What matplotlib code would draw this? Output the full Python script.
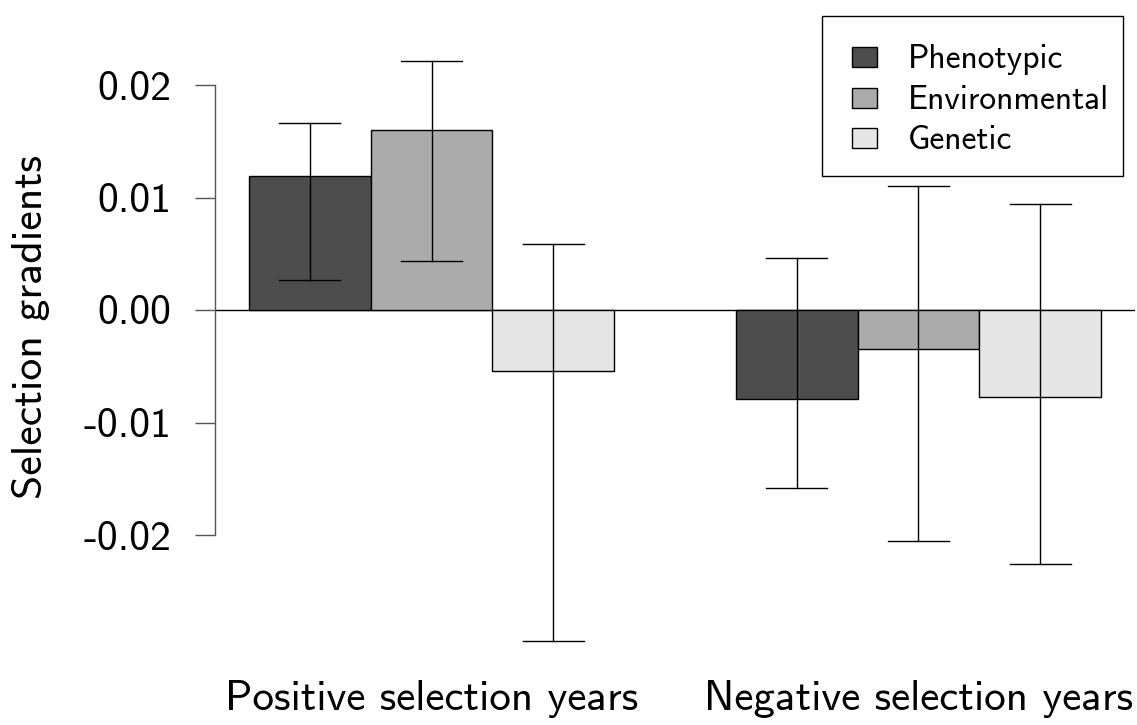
import matplotlib
matplotlib.use("Agg")
import matplotlib.pyplot as plt
from matplotlib.patches import Rectangle

# selection gradients per year type and component
groups = ["Positive selection years", "Negative selection years"]
components = ["Phenotypic", "Environmental", "Genetic"]
estimates = [
    [0.0119, 0.0160, -0.0054],
    [-0.0079, -0.0035, -0.0077],
]
lower = [
    [0.0027, 0.0044, -0.0294],
    [-0.0158, -0.0205, -0.0226],
]
upper = [
    [0.0166, 0.0221, 0.0059],
    [0.0046, 0.0110, 0.0094],
]
colours = ["#4d4d4d", "#ababab", "#e6e6e6"]

plt.rcParams["font.family"] = ["cmss10", "DejaVu Sans"]
plt.rcParams["axes.unicode_minus"] = False

W, H = 1137, 725
fig = plt.figure(figsize=(W / 100, H / 100), dpi=100)
# axes spans x-range 0.72..8.28 (R style barplot with 4% padding)
ax = fig.add_axes([215 / W, 0, 920 / W, 1])
ax.set_xlim(0.72, 8.28)
ax.set_ylim(-415 / 11250, 310 / 11250)

for g in range(len(groups)):
    start = 1 + g * 4
    for k in range(len(components)):
        left = start + k
        ax.bar(left, estimates[g][k], width=1, align="edge",
               color=colours[k], edgecolor="black", linewidth=1.0, zorder=2)
        xc = left + 0.5
        ax.plot([xc, xc], [lower[g][k], upper[g][k]], color="black", lw=1.0, zorder=3)
        for yv in (lower[g][k], upper[g][k]):
            ax.plot([xc - 0.25, xc + 0.25], [yv, yv], color="black", lw=1.0, zorder=3)
    ax.text(start + 1.5, -0.0346, groups[g], ha="center", va="center",
            fontsize=31, clip_on=False)

ax.axhline(0, color="black", lw=1.0, zorder=1)

for s in ["top", "right", "bottom"]:
    ax.spines[s].set_visible(False)
ax.spines["left"].set_bounds(-0.02, 0.02)
ax.spines["left"].set_color("#555555")
ax.spines["left"].set_linewidth(1.0)
ax.set_xticks([])
ax.set_yticks([-0.02, -0.01, 0.0, 0.01, 0.02])
ax.set_yticklabels(["-0.02", "-0.01", "0.00", "0.01", "0.02"])
ax.tick_params(axis="y", length=14.4, width=1.0, color="#555555", pad=17, labelsize=30)

# overlay in pixel coordinates for the axis title and the legend
lax = fig.add_axes([0, 0, 1, 1], facecolor="none")
lax.set_xlim(0, W)
lax.set_ylim(H, 0)
lax.axis("off")
lax.text(31, 327, "Selection gradients", rotation=90, ha="center", va="center",
         fontsize=31.5)

lax.add_patch(Rectangle((822, 16), 301, 160, facecolor="white",
                        edgecolor="black", linewidth=1.0))
for k, name in enumerate(components):
    yc = 57 + k * 40.5
    lax.add_patch(Rectangle((852, yc - 10), 25, 20, facecolor=colours[k],
                            edgecolor="black", linewidth=1.0))
    lax.text(908, yc + 11, name, ha="left", va="baseline", fontsize=24.2)

fig.savefig("out.png", dpi=100)
